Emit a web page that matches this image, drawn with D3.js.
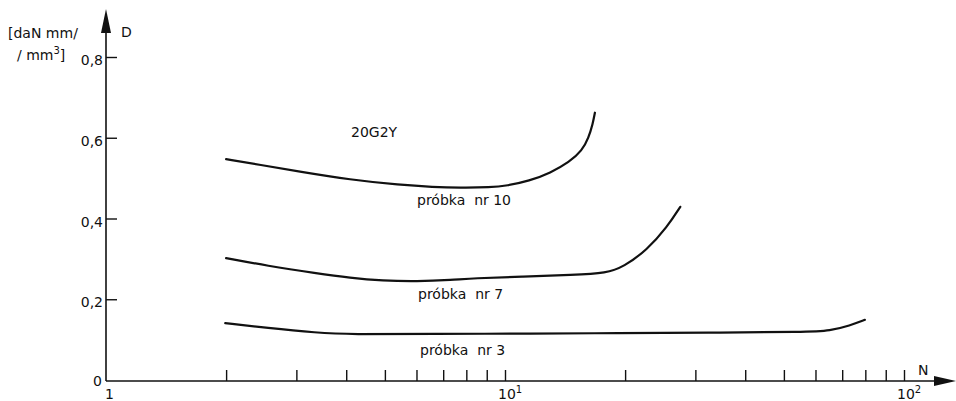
<!DOCTYPE html>
<html>
<head>
<meta charset="utf-8">
<script src="https://cdn.jsdelivr.net/npm/d3@7"></script>
<style>
  body { margin: 0; background: #fff; }
  svg { display: block; }
  text { font-family: "DejaVu Sans", sans-serif; font-size: 14px; fill: #111; }
</style>
</head>
<body>
<svg id="chart" width="956" height="401"></svg>
<script>
// curves: N (log axis) and D
const n10 = [2.0, 2.43, 3.06, 4.09, 5.46, 6.6, 7.7, 9.2, 10.1, 11.5, 13.0, 14.5, 15.6, 16.2, 16.6, 16.8];
const d10 = [0.547, 0.533, 0.516, 0.496, 0.483, 0.478, 0.476, 0.477, 0.481, 0.493, 0.513, 0.54, 0.568, 0.6, 0.635, 0.662];

const n7 = [2.0, 2.53, 3.38, 4.09, 4.94, 6.0, 7.4, 8.3, 11.1, 14.8, 18.0, 19.8, 22.7, 25.5, 27.5];
const d7 = [0.302, 0.283, 0.264, 0.253, 0.246, 0.244, 0.248, 0.252, 0.256, 0.26, 0.265, 0.28, 0.322, 0.379, 0.429];

const n3 = [1.99, 2.53, 3.38, 4.09, 6.6, 11.75, 19.1, 32.1, 57.1, 65.3, 73.2, 79.8];
const d3v = [0.141, 0.129, 0.117, 0.113, 0.114, 0.115, 0.116, 0.117, 0.119, 0.122, 0.135, 0.149];

const seriesNames = ['próbka  nr 10', 'próbka  nr 7', 'próbka  nr 3'];
const yTicks = [0.2, 0.4, 0.6, 0.8];
const yTickLabels = ['0,2', '0,4', '0,6', '0,8'];
const xTicks = [2, 3, 4, 5, 6, 7, 8, 9, 10, 20, 30, 40, 50, 60, 70, 80, 90, 100];

const svg = d3.select('#chart');

const x = d3.scaleLog().domain([1, 100]).range([106, 904]);
const y = d3.scaleLinear().domain([0, 0.8]).range([380, 57]);

const ink = '#111';

// axes lines with arrow heads
svg.append('line')
  .attr('x1', x(1)).attr('y1', y(0) + 1)
  .attr('x2', x(1)).attr('y2', 24)
  .attr('stroke', ink).attr('stroke-width', 1.6);
svg.append('path')
  .attr('d', `M${x(1)},9 L${x(1) - 5},33 L${x(1) + 5},33 Z`)
  .attr('fill', ink);

svg.append('line')
  .attr('x1', x(1)).attr('y1', y(0) + 1)
  .attr('x2', 945).attr('y2', y(0) + 1)
  .attr('stroke', ink).attr('stroke-width', 1.6);
svg.append('path')
  .attr('d', `M956,${y(0) + 1} L934,${y(0) - 4} L934,${y(0) + 6} Z`)
  .attr('fill', ink);

// y ticks (to the right of the axis)
const yAxis = d3.axisRight(y)
  .tickValues(yTicks)
  .tickSize(11)
  .tickFormat('');
svg.append('g')
  .attr('transform', `translate(${x(1)},0)`)
  .call(yAxis)
  .call((g) => g.select('.domain').remove())
  .call((g) => g.selectAll('.tick line').attr('stroke', ink).attr('stroke-width', 1.4));

svg.append('g')
  .selectAll('text')
  .data(yTicks)
  .enter()
  .append('text')
  .attr('x', 103)
  .attr('y', (d) => y(d) + 8)
  .attr('text-anchor', 'end')
  .text((d, i) => yTickLabels[i]);

// x ticks (pointing up)
const xAxis = d3.axisTop(x)
  .tickValues(xTicks)
  .tickSize(11)
  .tickFormat('');
svg.append('g')
  .attr('transform', `translate(0,${y(0) + 1})`)
  .call(xAxis)
  .call((g) => g.select('.domain').remove())
  .call((g) => g.selectAll('.tick line').attr('stroke', ink).attr('stroke-width', 1.4));

// axis labels
svg.append('text').attr('x', 93).attr('y', 386).text('0');
svg.append('text').attr('x', 105).attr('y', 399).text('1');

const decade = svg.append('g');
[[10, '1'], [100, '2']].forEach(([v, p]) => {
  const t = decade.append('text')
    .attr('x', x(v) - 7)
    .attr('y', 399);
  t.append('tspan').text('10');
  t.append('tspan').attr('dy', -6).attr('font-size', 10).text(p);
});

svg.append('text').attr('x', 918).attr('y', 375).text('N');
svg.append('text').attr('x', 121).attr('y', 37).text('D');
svg.append('text').attr('x', 8).attr('y', 38).text('[daN mm/');
const unit = svg.append('text').attr('x', 17).attr('y', 60);
unit.append('tspan').text('/ mm');
unit.append('tspan').attr('dy', -6).attr('font-size', 10).text('3');
unit.append('tspan').attr('dy', 6).text(']');

// curves
const line = d3.line()
  .x((d) => x(d[0]))
  .y((d) => y(d[1]))
  .curve(d3.curveBasis);

const series = [
  d3.zip(n10, d10),
  d3.zip(n7, d7),
  d3.zip(n3, d3v),
];

svg.append('g')
  .selectAll('path')
  .data(series)
  .enter()
  .append('path')
  .attr('d', (d) => line(d))
  .attr('fill', 'none')
  .attr('stroke', ink)
  .attr('stroke-width', 2.2)
  .attr('stroke-linecap', 'round');

// curve labels
const labelPos = [[417, 205], [418, 299], [420, 355]];
svg.append('g')
  .selectAll('text')
  .data(seriesNames)
  .enter()
  .append('text')
  .attr('x', (d, i) => labelPos[i][0])
  .attr('y', (d, i) => labelPos[i][1])
  .attr('xml:space', 'preserve')
  .style('white-space', 'pre')
  .text((d) => d);

svg.append('text')
  .attr('x', 351)
  .attr('y', 137)
  .text('20G2Y');
</script>
</body>
</html>
